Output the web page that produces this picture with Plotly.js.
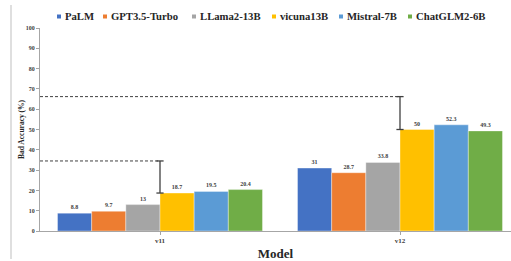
<!DOCTYPE html>
<html>
<head>
<meta charset="utf-8">
<script src="https://cdn.plot.ly/plotly-3.0.1.min.js"></script>
<style>html,body{margin:0;padding:0;background:#fff;}#chart{width:511px;height:261px;}</style>
</head>
<body>
<div id="chart"></div>
<script>
const categories = ['v11', 'v12'];
const models = ['PaLM', 'GPT3.5-Turbo', 'LLama2-13B', 'vicuna13B', 'Mistral-7B', 'ChatGLM2-6B'];
const palm = [8.8, 31];
const gpt35 = [9.7, 28.7];
const llama2 = [13, 33.8];
const vicuna = [18.7, 50];
const mistral = [19.5, 52.3];
const chatglm = [20.4, 49.3];
const refLevels = [34.5, 66.2];
const refBases = [18.7, 50];
const yTicks = [0, 10, 20, 30, 40, 50, 60, 70, 80, 90, 100];

const colors = ['#4472C4', '#ED7D31', '#A5A5A5', '#FFC000', '#5B9BD5', '#70AD47'];
const series = [palm, gpt35, llama2, vicuna, mistral, chatglm];
const serif = 'Liberation Serif, Times New Roman, serif';

// plot geometry (pixels) used for the hand-placed legend
const W = 511, H = 261, ML = 40, MR = 0, MT = 28, MB = 30;
const PW = W - ML - MR, PH = H - MT - MB;
const legendPx = [57, 103, 192, 272, 339, 408];   // left edge of each legend swatch
const legendPy = 16;                               // vertical centre of the legend row
const px2x = p => (p - ML) / PW;
const py2y = p => (H - MB - p) / PH;

const traces = series.map((vals, i) => ({
  type: 'bar',
  name: models[i],
  x: categories,
  y: vals,
  marker: {color: colors[i], line: {color: 'rgba(255,255,255,0.6)', width: 0.6}},
  text: vals.map(v => String(v)),
  textposition: 'outside',
  textfont: {family: serif, size: 6, color: '#404040', weight: 'bold'},
  cliponaxis: false,
  hoverinfo: 'skip'
}));

const shapes = [];
// left border line
shapes.push({type: 'line', xref: 'paper', yref: 'paper', x0: px2x(11), x1: px2x(11), y0: py2y(259), y1: py2y(5),
  line: {color: '#BFBFBF', width: 1}});
const capHalf = 0.015;
refLevels.forEach((lvl, i) => {
  shapes.push({type: 'line', xref: 'x', yref: 'y', x0: -0.5, x1: i, y0: lvl, y1: lvl,
    line: {color: '#404040', width: 1, dash: '3px,2px'}});
  shapes.push({type: 'line', xref: 'x', yref: 'y', x0: i, x1: i, y0: refBases[i], y1: lvl,
    line: {color: '#404040', width: 1.3}});
  shapes.push({type: 'line', xref: 'x', yref: 'y', x0: i - capHalf, x1: i + capHalf, y0: lvl, y1: lvl,
    line: {color: '#404040', width: 1.3}});
  shapes.push({type: 'line', xref: 'x', yref: 'y', x0: i - capHalf, x1: i + capHalf, y0: refBases[i], y1: refBases[i],
    line: {color: '#404040', width: 1.3}});
});

// legend: small swatches + labels
const annotations = [];
models.forEach((m, i) => {
  const sx = legendPx[i];
  shapes.push({type: 'rect', xref: 'paper', yref: 'paper',
    x0: px2x(sx), x1: px2x(sx + 4), y0: py2y(legendPy + 2.5), y1: py2y(legendPy - 1.5),
    fillcolor: colors[i], line: {width: 0}});
  annotations.push({xref: 'paper', yref: 'paper', x: px2x(sx + 6), y: py2y(legendPy),
    xanchor: 'left', yanchor: 'middle', showarrow: false, text: m,
    font: {family: serif, size: 10.7, color: '#262626', weight: 'bold'}});
});

const layout = {
  width: W, height: H,
  margin: {l: ML, r: MR, t: MT, b: MB, pad: 0},
  paper_bgcolor: '#fff', plot_bgcolor: '#fff',
  barmode: 'group', bargap: 0.146, bargroupgap: 0,
  showlegend: false,
  xaxis: {
    type: 'category', range: [-0.5, 1.4625],
    showline: true, linecolor: '#A6A6A6', linewidth: 1,
    ticks: 'outside', ticklen: 3, tickcolor: '#A6A6A6',
    tickfont: {family: serif, size: 7, color: '#404040', weight: 'bold'},
    showgrid: false, zeroline: false,
    title: {text: 'Model', font: {family: serif, size: 13, color: '#262626', weight: 'bold'}, standoff: 6}
  },
  yaxis: {
    range: [0, 100], tickvals: yTicks, ticktext: yTicks.map(String),
    showline: true, linecolor: '#A6A6A6', linewidth: 1,
    ticks: 'outside', ticklen: 3, tickcolor: '#A6A6A6',
    tickfont: {family: serif, size: 6, color: '#404040', weight: 'bold'},
    showgrid: false, zeroline: false,
    title: {text: 'Bad Accuracy (%)', font: {family: serif, size: 7.5, color: '#262626', weight: 'bold'}, standoff: 0}
  },
  shapes: shapes,
  annotations: annotations
};

Plotly.newPlot('chart', traces, layout, {staticPlot: true, displayModeBar: false});
</script>
</body>
</html>
